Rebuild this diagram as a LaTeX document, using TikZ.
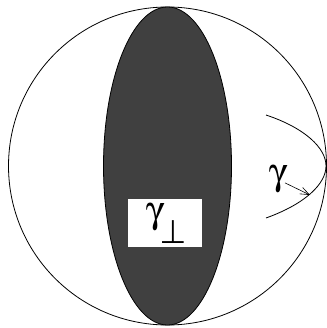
\documentclass[tikz,border=0pt]{standalone}
\usetikzlibrary{arrows.meta}
\newcommand\symb{\usefont{U}{psy}{m}{n}}
\begin{document}
\begin{tikzpicture}[x=1pt,y=-1pt,every node/.style={font=\symb\fontsize{38}{38}\selectfont}]
  \useasboundingbox (0,0) rectangle (326,328);
  \draw[fill=white,line width=0.8pt] (167.5,166) circle[radius=159];
  \draw[fill=black!75,line width=0.8pt] (167.5,166) ellipse[x radius=64,y radius=159];
  \node[fill=white,minimum width=74pt,minimum height=48pt,inner sep=0pt] (perp) at (165,223) {g\raisebox{-0.55em}{\fontsize{34}{34}\selectfont\char"5E}};
  \draw[line width=0.8pt] (266,115) .. controls (305,128) and (326,148) .. (326,166) .. controls (326,184) and (305,204) .. (266,218);
  \coordinate (tip) at (310,195);
  \node[inner sep=0pt] (gam) at (277,179) {g};
  \draw[-{Straight Barb[length=9pt,width=7pt]},line width=0.6pt] (gam) -- (tip);
\end{tikzpicture}
\end{document}
